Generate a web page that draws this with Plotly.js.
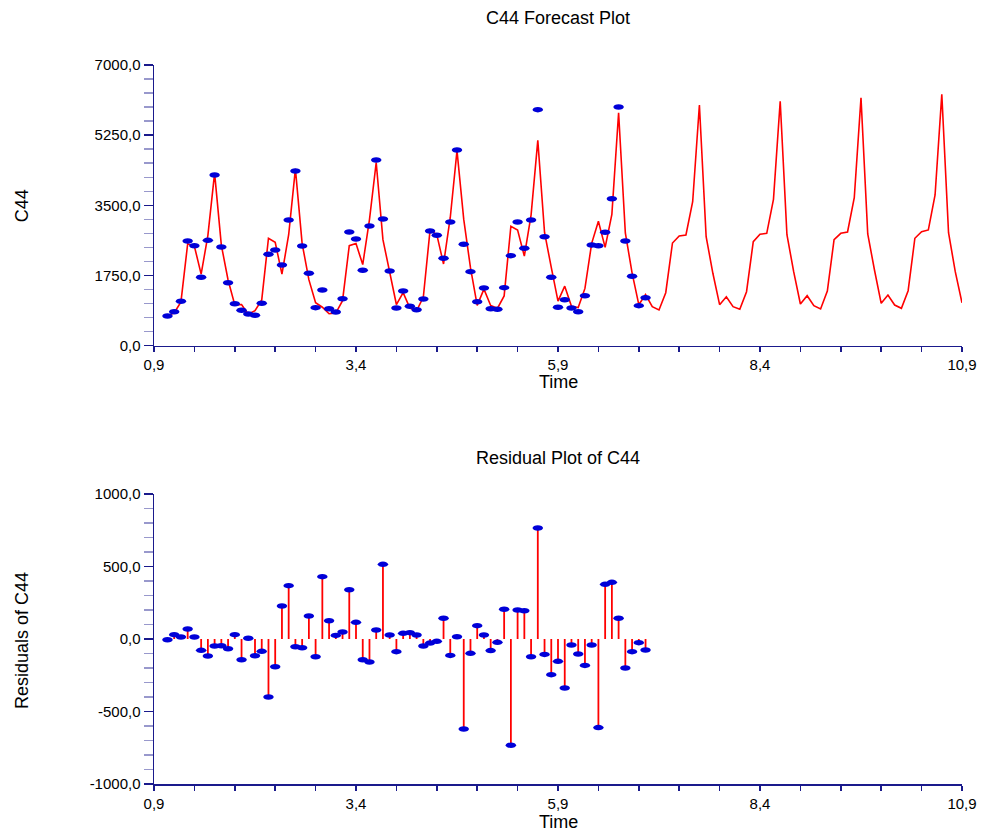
<!DOCTYPE html>
<html>
<head>
<meta charset="utf-8">
<script src="https://cdn.plot.ly/plotly-3.0.1.min.js"></script>
<style>html,body{margin:0;padding:0;background:#fff;}#chart{width:981px;height:832px;}</style>
</head>
<body>
<div id="chart"></div>
<script>
// ---- Data ----
// Monthly time index: first observation and spacing
const timeStart = 1.0667;
const timeStep = 1 / 12;

// Observed C44 values (72 months)
const actual = [741,848,1107,2611,2494,1706,2628,4257,2461,1571,1047,883,
                791,758,1057,2279,2387,2013,3135,4357,2487,1806,948,1389,
                923,840,1172,2836,2661,1880,2985,4631,3160,1863,940,1364,
                983,898,1165,2861,2753,2180,3085,4881,2529,1846,1097,1440,
                923,908,1447,2245,3085,2429,3135,5886,2718,1706,958,1147,
                940,848,1247,2511,2494,2828,3666,5953,2611,1731,998,1197];

// Residuals of C44 (actual - fitted)
const residuals = [-5,30,14,69,14,-78,-117,-48,-46,-67,30,-143,
                   5,-115,-85,-400,-191,228,368,-53,-60,159,-122,430,
                   126,25,48,340,115,-143,-159,62,515,28,-87,39,
                   44,28,-48,-28,-16,143,-113,16,-621,-99,92,28,
                   -80,-23,205,-733,200,195,-122,766,-106,-246,-154,-338,
                   -41,-103,-182,-41,-611,377,391,143,-200,-87,-25,-76];

// Forecast values (47 months after the data)
const forecast = [973,890,1322,2561,2736,2761,3591,6003,2718,1806,1023,1222,
                  973,908,1347,2594,2778,2803,3651,6095,2768,1846,1040,1247,
                  998,915,1364,2644,2803,2836,3691,6185,2786,1888,1057,1264,
                  1015,933,1372,2679,2843,2886,3758,6270,2818,1846,1072];

// Axis ticks
const xRange = [0.9, 10.9];
const yRange1 = [0, 7000];
const yRange2 = [-1000, 1000];
const yTickVals2 = [-1000, -500, 0, 500, 1000];
const yTickText2 = ['-1000,0', '-500,0', '0,0', '500,0', '1000,0'];

// ---- Derived ----
const nAll = actual.length + forecast.length;
const time = [];
for (let i = 0; i < nAll; i++) time.push(timeStart + i * timeStep);
const timeObs = time.slice(0, actual.length);
const fitted = actual.map((v, i) => v - residuals[i]);
const lineVals = fitted.concat(forecast);

const stemX = [], stemY = [];
timeObs.forEach((t, i) => { stemX.push(t, t, null); stemY.push(0, residuals[i], null); });

const RED = '#ff0000';
const BLUE = '#0000d8';
const AXIS = '#1a1a8c';
const MINOR = '#9898cc';
const FONT = 'Liberation Sans, Arial, sans-serif';

const traces = [
  {x: time, y: lineVals, xaxis: 'x', yaxis: 'y', mode: 'lines', type: 'scatter',
   line: {color: RED, width: 1.6}, hoverinfo: 'skip'},
  {x: timeObs, y: actual, xaxis: 'x', yaxis: 'y', mode: 'markers', type: 'scatter',
   marker: {color: BLUE, size: 5.5, line: {width: 0}}},
  {x: stemX, y: stemY, xaxis: 'x2', yaxis: 'y2', mode: 'lines', type: 'scatter',
   line: {color: RED, width: 1.8}, connectgaps: false, hoverinfo: 'skip'},
  {x: timeObs, y: residuals, xaxis: 'x2', yaxis: 'y2', mode: 'markers', type: 'scatter',
   marker: {color: BLUE, size: 5.5, line: {width: 0}}}
];

function xAxis(anchor) {
  return {
    anchor: anchor, domain: [0, 1], range: xRange,
    showline: true, linecolor: AXIS, linewidth: 1.5,
    ticks: 'outside', ticklen: 5, tickcolor: AXIS, tickwidth: 1.5,
    tickmode: 'linear', tick0: 0.9, dtick: 2.5, tickformat: '.1f',
    minor: {tickmode: 'linear', tick0: 0.9, dtick: 0.5, ticks: 'outside', ticklen: 5, tickcolor: AXIS, tickwidth: 1.5},
    showgrid: false, zeroline: false,
    tickfont: {family: FONT, size: 15, color: '#000'}
  };
}

const layout = {
  width: 981, height: 832,
  margin: {l: 154, r: 19, t: 65, b: 48},
  paper_bgcolor: '#fff', plot_bgcolor: '#fff',
  separators: ',.',
  showlegend: false,
  font: {family: FONT, size: 15, color: '#000'},
  xaxis: xAxis('y'),
  xaxis2: xAxis('y2'),
  yaxis: {
    anchor: 'x', domain: [0.6096, 1], range: yRange1,
    showline: true, linecolor: AXIS, linewidth: 1.5,
    ticks: 'outside', ticklen: 9, tickcolor: AXIS, tickwidth: 1.5,
    tickmode: 'linear', tick0: 0, dtick: 1750, tickformat: '.1f',
    minor: {tickmode: 'linear', tick0: 0, dtick: 350, ticks: 'outside', ticklen: 9, tickcolor: MINOR, tickwidth: 1.5},
    showgrid: false, zeroline: false,
    tickfont: {family: FONT, size: 15, color: '#000'}
  },
  yaxis2: {
    anchor: 'x2', domain: [0, 0.4033], range: yRange2,
    showline: true, linecolor: AXIS, linewidth: 1.5,
    ticks: 'outside', ticklen: 9, tickcolor: AXIS, tickwidth: 1.5,
    tickmode: 'array', tickvals: yTickVals2, ticktext: yTickText2,
    minor: {tickmode: 'linear', tick0: -1000, dtick: 100, ticks: 'outside', ticklen: 9, tickcolor: MINOR, tickwidth: 1.5},
    showgrid: false, zeroline: false,
    tickfont: {family: FONT, size: 15, color: '#000'}
  },
  annotations: [
    {text: 'C44 Forecast Plot', xref: 'paper', yref: 'paper', x: 0.5, y: 1.0654, xanchor: 'center', yanchor: 'middle', showarrow: false, font: {size: 18}},
    {text: 'Time', xref: 'paper', yref: 'paper', x: 0.5, y: 0.559, xanchor: 'center', yanchor: 'middle', showarrow: false, font: {size: 18}},
    {text: 'C44', xref: 'paper', yref: 'paper', x: -0.1634, y: 0.805, xanchor: 'center', yanchor: 'middle', textangle: -90, showarrow: false, font: {size: 18}},
    {text: 'Residual Plot of C44', xref: 'paper', yref: 'paper', x: 0.5, y: 0.4534, xanchor: 'center', yanchor: 'middle', showarrow: false, font: {size: 18}},
    {text: 'Time', xref: 'paper', yref: 'paper', x: 0.5, y: -0.0529, xanchor: 'center', yanchor: 'middle', showarrow: false, font: {size: 18}},
    {text: 'Residuals of C44', xref: 'paper', yref: 'paper', x: -0.1634, y: 0.2003, xanchor: 'center', yanchor: 'middle', textangle: -90, showarrow: false, font: {size: 18}}
  ]
};

const gd = document.getElementById('chart');
function stretchMarkers() {
  gd.querySelectorAll('.scatterlayer .trace .points path.point').forEach(p => {
    const t = (p.getAttribute('transform') || '').replace(/\s*scale\([^)]*\)/g, '');
    p.setAttribute('transform', t + ' scale(1.9,1)');
  });
}
Plotly.newPlot(gd, traces, layout, {displayModeBar: false, staticPlot: true}).then(() => {
  stretchMarkers();
  gd.on('plotly_afterplot', stretchMarkers);
});
</script>
</body>
</html>
